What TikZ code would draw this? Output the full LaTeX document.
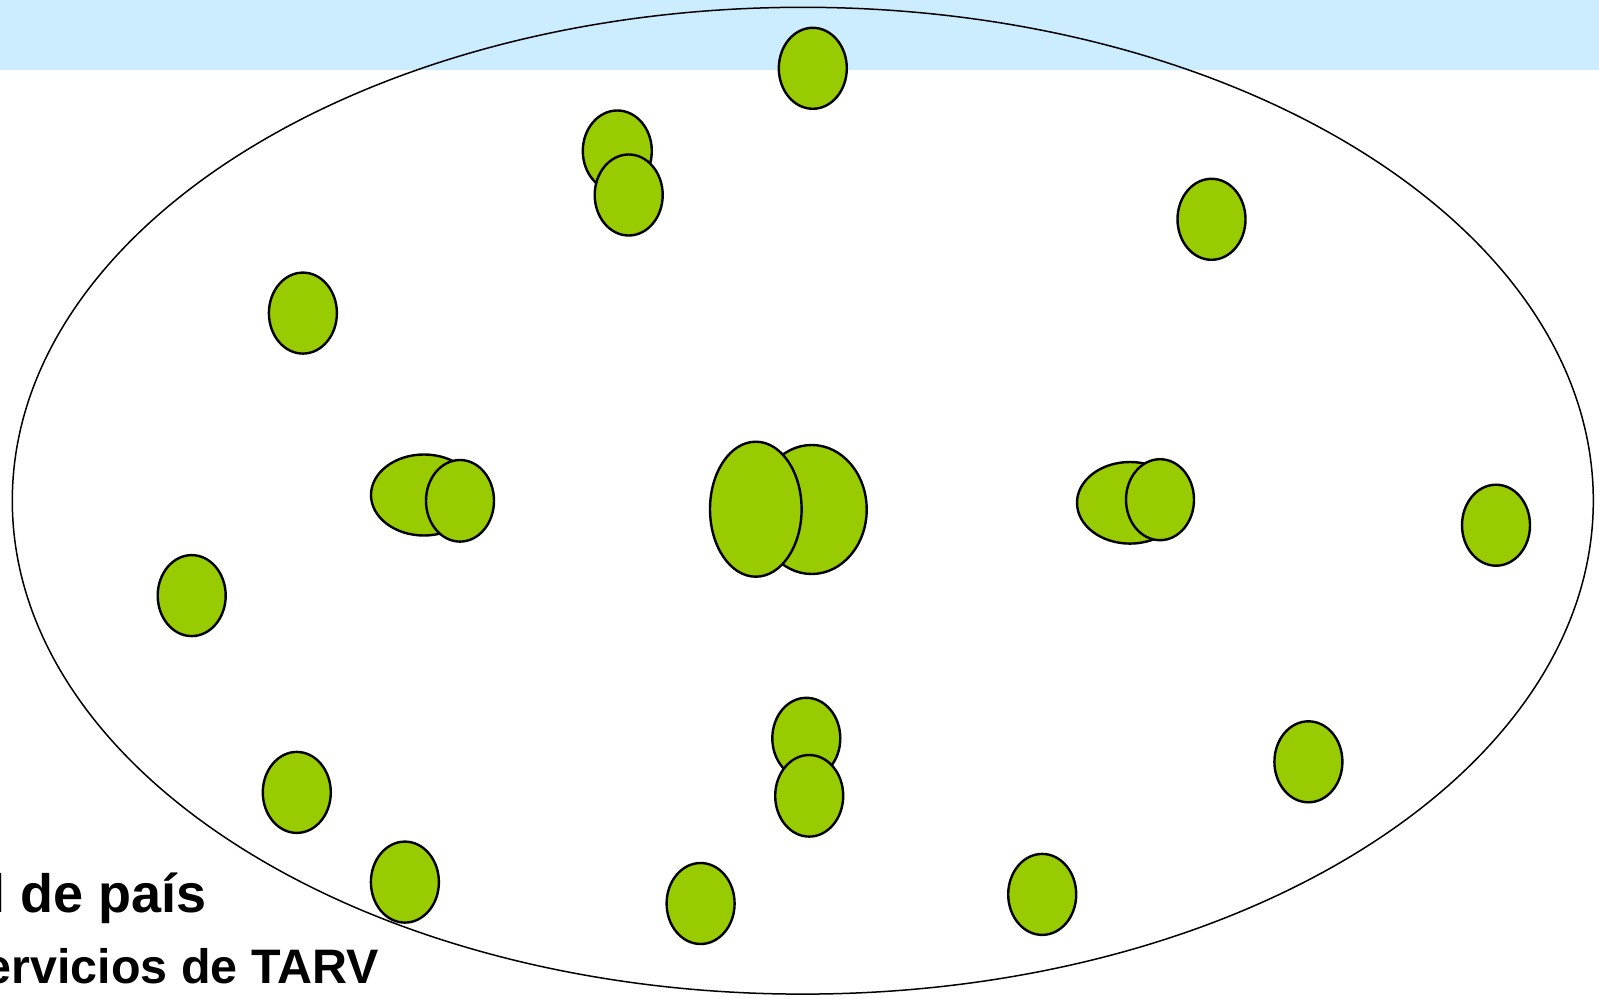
\documentclass[tikz,border=0pt]{standalone}
\usepackage{fontspec}
\setmainfont{Liberation Sans}
\definecolor{himmel}{HTML}{CCECFF}
\definecolor{gruen}{HTML}{99CC00}
\begin{document}
\begin{tikzpicture}[x=0.5pt,y=-0.5pt,
    fleck/.style={draw=black, fill=gruen, line width=1.2pt},
    zeile/.style={anchor=base west, inner sep=0pt}]
  \useasboundingbox (0,0) rectangle (1599,999);
  \fill[himmel] (0,0) rectangle (1599,70);
  \node[zeile, font=\bfseries\fontsize{27}{31}\selectfont] (land) at (-10,912) {l de país};
  \node[zeile, font=\bfseries\fontsize{24.2}{28}\selectfont] (tarv) at (-15.6,983) {ervicios de TARV};
  \draw[line width=0.75pt] (802.8,500.7) ellipse [x radius=790.5, y radius=493.4];
  % einzelne
  \draw[fleck] (812.8,68.3) ellipse [x radius=34, y radius=40.5];
  \draw[fleck] (1211.5,219.3) ellipse [x radius=34, y radius=40.5];
  \draw[fleck] (302.9,313.1) ellipse [x radius=34, y radius=40.5];
  \draw[fleck] (1496,525.2) ellipse [x radius=34, y radius=40.5];
  \draw[fleck] (191.7,595.6) ellipse [x radius=34, y radius=40.5];
  \draw[fleck] (1308.4,761.8) ellipse [x radius=34, y radius=40.5];
  \draw[fleck] (296.8,792.4) ellipse [x radius=34, y radius=40.5];
  \draw[fleck] (404.9,882.1) ellipse [x radius=34, y radius=40.5];
  \draw[fleck] (700.6,903.5) ellipse [x radius=34, y radius=40.5];
  \draw[fleck] (1042.2,894.4) ellipse [x radius=34, y radius=40.5];
  % paare
  \draw[fleck] (617.3,151) ellipse [x radius=34.5, y radius=40.5];
  \draw[fleck] (628.7,195) ellipse [x radius=34, y radius=40.5];
  \draw[fleck] (424,495) ellipse [x radius=53, y radius=40.5];
  \draw[fleck] (460,500.8) ellipse [x radius=34, y radius=40.8];
  \draw[fleck] (811.7,509.5) ellipse [x radius=55, y radius=64.5];
  \draw[fleck] (755.8,509.2) ellipse [x radius=45.8, y radius=67.5];
  \draw[fleck] (1130,502.8) ellipse [x radius=53, y radius=40.8];
  \draw[fleck] (1160,499.7) ellipse [x radius=34, y radius=40.5];
  \draw[fleck] (806.3,738.3) ellipse [x radius=34, y radius=40.5];
  \draw[fleck] (809.2,795.8) ellipse [x radius=34, y radius=40.8];
\end{tikzpicture}
\end{document}
